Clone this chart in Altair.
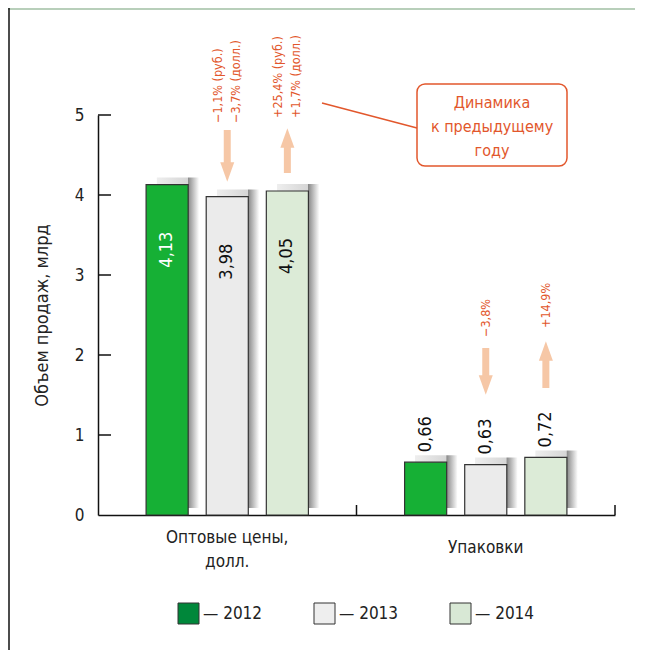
import altair as alt
import pandas as pd

# ---- data ----
categories = ["Оптовые цены, долл.", "Упаковки"]
category_labels = ["Оптовые цены,\nдолл.", "Упаковки"]
years = ["2012", "2013", "2014"]
wholesale = [4.13, 3.98, 4.05]
packs = [0.66, 0.63, 0.72]
bar_colors = ["#16b035", "#ebebeb", "#dcebd7"]
legend_colors = ["#00873a", "#eeeeee", "#d8e8d5"]
changes_wholesale = ["", "−1,1% (руб.)\n−3,7% (долл.)", "+25,4% (руб.)\n+1,7% (долл.)"]
changes_packs = ["", "−3,8%", "+14,9%"]
box_text = "Динамика\nк предыдущему\nгоду"
y_title = "Объем продаж, млрд"

rows = []
for cat, vals, chg in [(categories[0], wholesale, changes_wholesale),
                       (categories[1], packs, changes_packs)]:
    for yr, v, c in zip(years, vals, chg):
        rows.append({"cat": cat, "year": yr, "value": v,
                     "label": f"{v:.2f}".replace(".", ","), "change": c})
df = pd.DataFrame(rows)
cat_df = pd.DataFrame({"cat": categories, "text": category_labels})
legend_df = pd.DataFrame({"year": years, "color": legend_colors,
                          "text": ["— " + y for y in years]})

FONT = "DejaVu Sans Condensed, DejaVu Sans, sans-serif"
ORANGE = "#e2572c"
ARROW = "#f6c7a6"
W, H = 517, 400

xscale = alt.Scale(domain=categories, paddingInner=0, paddingOuter=0)
xenc = alt.X("cat:N", scale=xscale,
             axis=alt.Axis(labels=False, ticks=False, title=None, domainColor="#111",
                           domainWidth=1.5, grid=False))
xoff = alt.XOffset("year:N", scale=alt.Scale(domain=years, paddingInner=0.3, paddingOuter=0.8))
yscale = alt.Scale(domain=[0, 5], nice=False)
yenc = alt.Y("value:Q", scale=yscale,
             axis=alt.Axis(values=[0, 1, 2, 3, 4, 5], format="d", ticks=False, grid=False,
                           domainColor="#111", domainWidth=1.5, labelFontSize=17,
                           labelColor="#222", labelFont=FONT, labelPadding=14,
                           title=y_title, titleFont=FONT, titleFontSize=18,
                           titleFontWeight="normal", titleColor="#222", titlePadding=23))

base = alt.Chart(df)

# 3-D style shadow: a wider bar with a gradient that is transparent on its left part
shadow = base.mark_bar(
    width=64, yOffset=-7,
    color=alt.Gradient(gradient="linear", x1=0, x2=1, y1=0, y2=0,
                       stops=[alt.GradientStop(color="rgba(255,255,255,0)", offset=0),
                              alt.GradientStop(color="rgba(255,255,255,0)", offset=0.33),
                              alt.GradientStop(color="#eeeeee", offset=0.34),
                              alt.GradientStop(color="#d6d6d6", offset=0.82),
                              alt.GradientStop(color="#8a8a8a", offset=0.83),
                              alt.GradientStop(color="#c8c8c8", offset=0.92),
                              alt.GradientStop(color="#ffffff", offset=1)])
).encode(x=xenc, xOffset=xoff, y=yenc)

bars = base.mark_bar(stroke="#333", strokeWidth=1.2).encode(
    x=xenc, xOffset=xoff, y=yenc,
    fill=alt.Fill("year:N", scale=alt.Scale(domain=years, range=bar_colors), legend=None))

inside = base.transform_filter(alt.datum.cat == categories[0]).mark_text(
    angle=270, align="right", baseline="middle", dx=-47, fontSize=18, font=FONT).encode(
    x=xenc, xOffset=xoff, y=yenc, text="label:N",
    color=alt.condition(alt.datum.year == "2012", alt.value("white"), alt.value("#111")))

above = base.transform_filter(alt.datum.cat == categories[1]).mark_text(
    angle=270, align="left", baseline="middle", dx=10, fontSize=18, font=FONT,
    color="#111").encode(x=xenc, xOffset=xoff, y=yenc, text="label:N")

# tick marks (pointing inward)
yticks = alt.Chart(pd.DataFrame({"value": [1, 2, 3, 4, 5]})).mark_rule(
    color="#111", strokeWidth=1.5).encode(y=alt.Y("value:Q", scale=yscale),
                                          x=alt.value(0), x2=alt.value(13))
xticks = alt.Chart(cat_df).mark_rule(color="#111", strokeWidth=1.5).encode(
    x=alt.X("cat:N", scale=xscale, bandPosition=1),
    y=alt.value(H), y2=alt.value(H - 10))

cat_text1 = alt.Chart(cat_df).transform_filter(alt.datum.cat == categories[0]).mark_text(
    lineBreak="\n", fontSize=17, font=FONT, color="#222", baseline="middle",
    lineHeight=24).encode(x=alt.X("cat:N", scale=xscale), y=alt.value(423), text="text:N")
cat_text2 = alt.Chart(cat_df).transform_filter(alt.datum.cat == categories[1]).mark_text(
    lineBreak="\n", fontSize=17, font=FONT, color="#222", baseline="middle",
    lineHeight=24).encode(x=alt.X("cat:N", scale=xscale), y=alt.value(433), text="text:N")


def change_layer(cat, year, text_y, dy, shaft, head_y, up):
    sub = base.transform_filter((alt.datum.cat == cat) & (alt.datum.year == year))
    txt = sub.mark_text(angle=270, align="left", baseline="middle", lineBreak="\n",
                        fontSize=12.5, lineHeight=18, dy=dy, font=FONT,
                        color=ORANGE).encode(
        x=xenc, xOffset=xoff, y=alt.value(text_y), text="change:N")
    sh = sub.mark_rule(color=ARROW, strokeWidth=7).encode(
        x=xenc, xOffset=xoff, y=alt.value(shaft[0]), y2=alt.value(shaft[1]))
    path = "M -1 1.4 L 1 1.4 L 0 -1.4 Z" if up else "M -1 -1.4 L 1 -1.4 L 0 1.4 Z"
    hd = sub.mark_point(shape=path, filled=True, opacity=1, color=ARROW, size=196,
                        strokeWidth=0).encode(x=xenc, xOffset=xoff, y=alt.value(head_y))
    return [txt, sh, hd]


ann = []
ann += change_layer(categories[0], "2013", 8, -9, (15, 50), 57, False)
ann += change_layer(categories[0], "2014", 3, -9, (30, 58), 23, True)
ann += change_layer(categories[1], "2013", 222, 0, (233, 265), 270, False)
ann += change_layer(categories[1], "2014", 213, 0, (243, 273), 236, True)

one = alt.Chart(pd.DataFrame({"text": [box_text]}))
leader = one.mark_rule(color=ORANGE, strokeWidth=1.5).encode(
    x=alt.value(224), x2=alt.value(319), y=alt.value(-12), y2=alt.value(13))
box = one.mark_rect(fill="white", stroke=ORANGE, strokeWidth=1.5, cornerRadius=8).encode(
    x=alt.value(319), x2=alt.value(469), y=alt.value(-31), y2=alt.value(51))
box_txt = one.mark_text(lineBreak="\n", fontSize=16, lineHeight=24, font=FONT, color=ORANGE,
                        baseline="middle").encode(x=alt.value(394), y=alt.value(-12),
                                                  text="text:N")

header = one.mark_rect(color="#b8cfba").encode(
    x=alt.value(-90), x2=alt.value(W + 22), y=alt.value(-107), y2=alt.value(-105))
frame = one.mark_rule(color="#111", strokeWidth=1.5).encode(
    x=alt.value(-89), y=alt.value(-107), y2=alt.value(H + 135))

# legend drawn as marks
legend_layers = []
for i, yr in enumerate(years):
    item = alt.Chart(legend_df).transform_filter(alt.datum.year == yr)
    legend_layers.append(item.mark_rect(stroke="#333", strokeWidth=1).encode(
        fill=alt.Fill("color:N", scale=None),
        x=alt.value(80 + 136 * i), x2=alt.value(101 + 136 * i),
        y=alt.value(488), y2=alt.value(509)))
    legend_layers.append(item.mark_text(align="left", baseline="middle", fontSize=17,
                                        font=FONT, color="#222").encode(
        x=alt.value(105 + 136 * i), y=alt.value(499), text="text:N"))

chart = alt.layer(
    header, frame, shadow, bars, inside, above, yticks, xticks,
    cat_text1, cat_text2, *ann, leader, box, box_txt, *legend_layers
).properties(
    width=W, height=H,
    autosize=alt.AutoSizeParams(type="none"),
    padding={"left": 90, "top": 107, "right": 20, "bottom": 135},
).configure(font=FONT, view=alt.ViewConfig(stroke="transparent", strokeWidth=0))

chart.save("out.html", embed_options={"renderer": "svg", "actions": False})
